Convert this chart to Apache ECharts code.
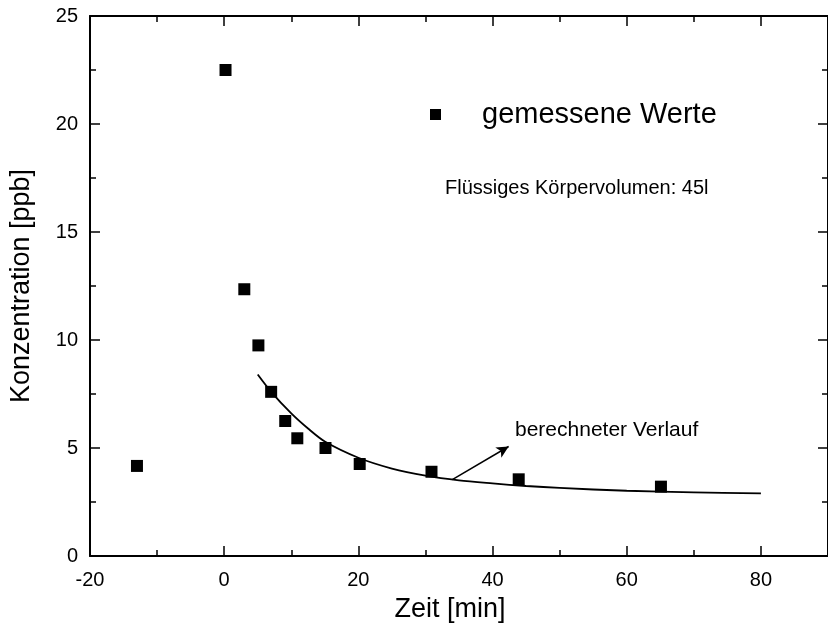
<!DOCTYPE html>
<html>
<head>
<meta charset="utf-8">
<script src="https://cdn.jsdelivr.net/npm/echarts@6/dist/echarts.min.js"></script>
<style>
  html, body { margin: 0; padding: 0; background: #fff; }
  #chart { width: 828px; height: 630px; }
</style>
</head>
<body>
<div id="chart"></div>
<script>
// measured values (squares)
var measuredTime = [-13, 0.2, 3, 5.1, 7, 9.1, 10.9, 15.1, 20.2, 30.9, 43.9, 65.1];
var measuredConc = [4.17, 22.5, 12.35, 9.75, 7.6, 6.25, 5.45, 5.0, 4.26, 3.9, 3.55, 3.21];

// calculated curve
var fitTime = [5, 7, 10, 12.5, 15, 20, 25, 30, 35, 40, 45, 50, 60, 70, 80];
var fitConc = [8.4, 7.6, 6.6, 5.9, 5.3, 4.55, 4.05, 3.72, 3.5, 3.36, 3.24, 3.15, 3.02, 2.95, 2.9];

// arrow from the curve to the label
var arrowFrom = [34, 3.54];
var arrowTo = [42.4, 5.07];

var FONT = '"Liberation Sans", Arial, sans-serif';

function pairs(xs, ys) {
  var arr = [];
  for (var i = 0; i < xs.length; i++) {
    arr.push([xs[i], ys[i]]);
  }
  return arr;
}

function frameAxis(extra) {
  var ax = {
    type: 'value',
    axisLine: { show: true, onZero: false, lineStyle: { color: '#000', width: 2 } },
    axisTick: { show: true, inside: true, length: 10, lineStyle: { color: '#000', width: 1.5 } },
    minorTick: { show: true, splitNumber: 2, length: 6, lineStyle: { color: '#000', width: 1.5 } },
    splitLine: { show: false },
    axisLabel: { show: false }
  };
  return Object.assign(ax, extra);
}

var chart = echarts.init(document.getElementById('chart'));

var option = {
  backgroundColor: '#fff',
  animation: false,
  textStyle: { fontFamily: FONT, color: '#000' },
  grid: { left: 88, top: 16, right: -1, bottom: 74 },
  legend: {
    data: ['gemessene Werte'],
    left: 425,
    top: 95,
    icon: 'rect',
    itemWidth: 11,
    itemHeight: 11,
    itemStyle: { color: '#000', opacity: 1 },
    textStyle: { fontSize: 29, color: '#000', fontFamily: FONT, padding: [0, 0, 0, 36] }
  },
  xAxis: [
    frameAxis({
      position: 'bottom', min: -20, max: 90, interval: 20,
      name: 'Zeit [min]', nameLocation: 'middle', nameGap: 40,
      nameTextStyle: { fontSize: 27, color: '#000', fontFamily: FONT, padding: [0, 18, 0, 0] },
      axisLabel: { show: true, showMaxLabel: false, fontSize: 20, color: '#000', margin: 14, fontFamily: FONT }
    }),
    frameAxis({ position: 'top', min: -20, max: 90, interval: 20 })
  ],
  yAxis: [
    frameAxis({
      position: 'left', min: 0, max: 25, interval: 5,
      name: 'Konzentration [ppb]', nameLocation: 'middle', nameGap: 55,
      nameTextStyle: { fontSize: 27, color: '#000', fontFamily: FONT },
      axisLabel: { show: true, fontSize: 20, color: '#000', margin: 12, fontFamily: FONT }
    }),
    frameAxis({ position: 'right', min: 0, max: 25, interval: 5 })
  ],
  series: [
    {
      name: 'berechneter Verlauf',
      type: 'line',
      xAxisIndex: 0,
      yAxisIndex: 0,
      data: pairs(fitTime, fitConc),
      smooth: 0.3,
      showSymbol: false,
      lineStyle: { color: '#000', width: 1.8 },
      markLine: {
        silent: true,
        symbol: ['none', 'arrow'],
        symbolSize: [9, 12],
        label: { show: false },
        lineStyle: { color: '#000', width: 1.5, type: 'solid' },
        data: [[{ coord: arrowFrom }, { coord: arrowTo }]]
      }
    },
    {
      name: 'gemessene Werte',
      type: 'scatter',
      xAxisIndex: 0,
      yAxisIndex: 0,
      data: pairs(measuredTime, measuredConc),
      symbol: 'rect',
      symbolSize: 12,
      itemStyle: { color: '#000', opacity: 1 }
    }
  ],
  graphic: [
    {
      type: 'text', left: 445, top: 178,
      style: { text: 'Flüssiges Körpervolumen: 45l', font: '20px ' + FONT, fill: '#000' }
    },
    {
      type: 'text', left: 515, top: 420,
      style: { text: 'berechneter Verlauf', font: '21px ' + FONT, fill: '#000' }
    }
  ]
};

chart.setOption(option);
</script>
</body>
</html>
